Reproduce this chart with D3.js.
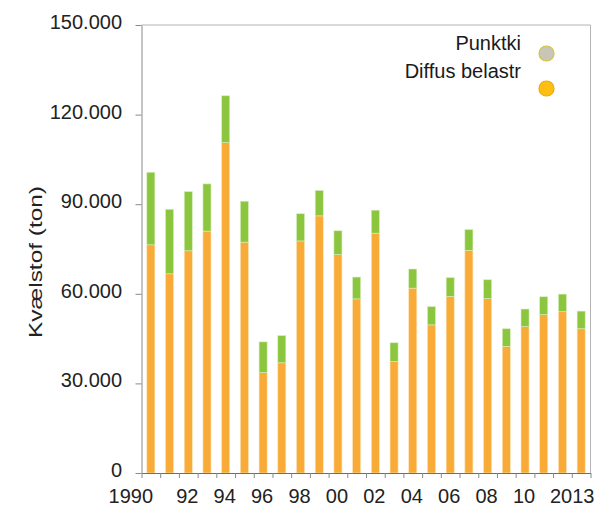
<!DOCTYPE html>
<html>
<head>
<meta charset="utf-8">
<script src="https://cdn.jsdelivr.net/npm/d3@7"></script>
<style>
  body { margin: 0; background: #fff; }
  svg { display: block; font-family: 'Liberation Sans', Arial, sans-serif; }
</style>
</head>
<body>
<script>
(function() {
  'use strict';

  const years = ['1990', '1991', '1992', '1993', '1994', '1995', '1996', '1997', '1998', '1999', '2000', '2001',
    '2002', '2003', '2004', '2005', '2006', '2007', '2008', '2009', '2010', '2011', '2012', '2013'];
  // diffuse load (orange, bottom) and point sources (green, top), tons
  const diffus = [76400, 66700, 74400, 81000, 110600, 77300, 33600, 36900, 77700, 86100, 73100, 58300,
    80300, 37300, 61900, 49600, 59100, 74500, 58400, 42400, 49000, 53000, 54000, 48300];
  const punkt = [24300, 21600, 19800, 15800, 15700, 13700, 10300, 9100, 9100, 8500, 8000, 7300,
    7700, 6300, 6400, 6100, 6300, 7000, 6300, 5900, 5900, 6000, 5900, 5900];
  const yTicks = [0, 30000, 60000, 90000, 120000, 150000];
  const xLabels = {'1990': '1990', '1992': '92', '1994': '94', '1996': '96', '1998': '98', '2000': '00',
    '2002': '02', '2004': '04', '2006': '06', '2008': '08', '2010': '10', '2013': '2013'};
  const legendNames = ['Punktki', 'Diffus belastr'];

  const w = 610;
  const h = 505;
  const left = 141.5;
  const right = 590.5;
  const top = 25;
  const bottom = 473;

  const svg = d3.select('body').append('svg')
    .attr('width', w)
    .attr('height', h);

  const x = d3.scaleBand().domain(years).range([left, right]).padding(0);
  const xIdx = d3.scaleLinear().domain([0, years.length]).range([left, right]);
  const y = d3.scaleLinear().domain([0, 150000]).range([bottom, top]);

  const locale = d3.formatLocale({decimal: ',', thousands: '.', grouping: [3], currency: ['', ' kr']});
  const fmt = locale.format(',d');

  // frame top and right
  svg.append('path')
    .attr('d', 'M' + left + ',' + top + 'H' + right + 'V' + bottom)
    .attr('fill', 'none')
    .attr('stroke', '#b4b4b4')
    .attr('stroke-width', 1);

  // stacked bars
  const stack = years.map((yr, i) => ({year: yr, d: diffus[i], p: punkt[i]}));
  const bw = x.bandwidth() * 0.43;
  const bars = svg.append('g');
  bars.selectAll('rect.diffus')
    .data(stack)
    .enter()
    .append('rect')
    .attr('class', 'diffus')
    .attr('x', (d) => x(d.year) + (x.bandwidth() - bw) / 2)
    .attr('width', bw)
    .attr('y', (d) => y(d.d))
    .attr('height', (d) => y(0) - y(d.d))
    .attr('fill', '#f9ab38')
    .attr('stroke', '#fde3b8')
    .attr('stroke-width', 0.6);
  bars.selectAll('rect.punkt')
    .data(stack)
    .enter()
    .append('rect')
    .attr('class', 'punkt')
    .attr('x', (d) => x(d.year) + (x.bandwidth() - bw) / 2)
    .attr('width', bw)
    .attr('y', (d) => y(d.d + d.p))
    .attr('height', (d) => y(d.d) - y(d.d + d.p))
    .attr('fill', '#8cc63e')
    .attr('stroke', '#d6eec0')
    .attr('stroke-width', 0.6);

  // y axis
  const yAxis = svg.append('g')
    .attr('transform', 'translate(' + left + ',0)')
    .call(d3.axisLeft(y).tickValues(yTicks).tickFormat(fmt).tickSize(6).tickSizeOuter(0));
  yAxis.select('.domain').attr('stroke', '#8a8a8a');
  yAxis.selectAll('.tick line').attr('stroke', '#8a8a8a');
  yAxis.selectAll('.tick text')
    .attr('x', -19.5)
    .attr('dy', '0.17em')
    .attr('fill', '#222')
    .style('font-size', '20px')
    .style('font-family', 'Liberation Sans, Arial, sans-serif');

  // x axis: tick marks on band boundaries
  const xTickAxis = svg.append('g')
    .attr('transform', 'translate(0,' + bottom + ')')
    .call(d3.axisBottom(xIdx).tickValues(d3.range(0, years.length + 1)).tickFormat('').tickSize(5).tickSizeOuter(0));
  xTickAxis.select('.domain').attr('stroke', '#6e6e6e');
  xTickAxis.selectAll('.tick line').attr('stroke', '#8a8a8a');

  // x axis labels
  const xLabAxis = svg.append('g')
    .attr('transform', 'translate(0,' + bottom + ')')
    .call(d3.axisBottom(x).tickValues(Object.keys(xLabels)).tickFormat((d) => xLabels[d]).tickSize(0));
  xLabAxis.select('.domain').remove();
  xLabAxis.selectAll('.tick text')
    .attr('y', 29.5)
    .attr('dy', 0)
    .attr('dx', (d) => d === '1990' ? -20 : (d === '2013' ? -9 : -1))
    .attr('fill', '#222')
    .style('font-size', '20px')
    .style('font-family', 'Liberation Sans, Arial, sans-serif');

  // y title
  svg.append('text')
    .attr('transform', 'translate(42,262) rotate(-90)')
    .attr('text-anchor', 'middle')
    .attr('textLength', 152)
    .attr('lengthAdjust', 'spacingAndGlyphs')
    .attr('fill', '#222')
    .style('font-size', '19px')
    .text('Kvælstof (ton)');

  // legend
  const legend = svg.append('g');
  const legendFill = ['#c8c6b6', '#fdbf12'];
  const legendStroke = ['#d8c338', '#f0a800'];
  const textY = [49.5, 77.5];
  const dotY = [53.5, 88.5];
  legendNames.forEach((name, i) => {
    legend.append('text')
      .attr('x', 521)
      .attr('y', textY[i])
      .attr('text-anchor', 'end')
      .attr('fill', '#1a1a1a')
      .style('font-size', '20px')
      .text(name);
    legend.append('circle')
      .attr('cx', 546.5)
      .attr('cy', dotY[i])
      .attr('r', 7.5)
      .attr('fill', legendFill[i])
      .attr('stroke', legendStroke[i])
      .attr('stroke-width', 1.2);
  });
}());
</script>
</body>
</html>
